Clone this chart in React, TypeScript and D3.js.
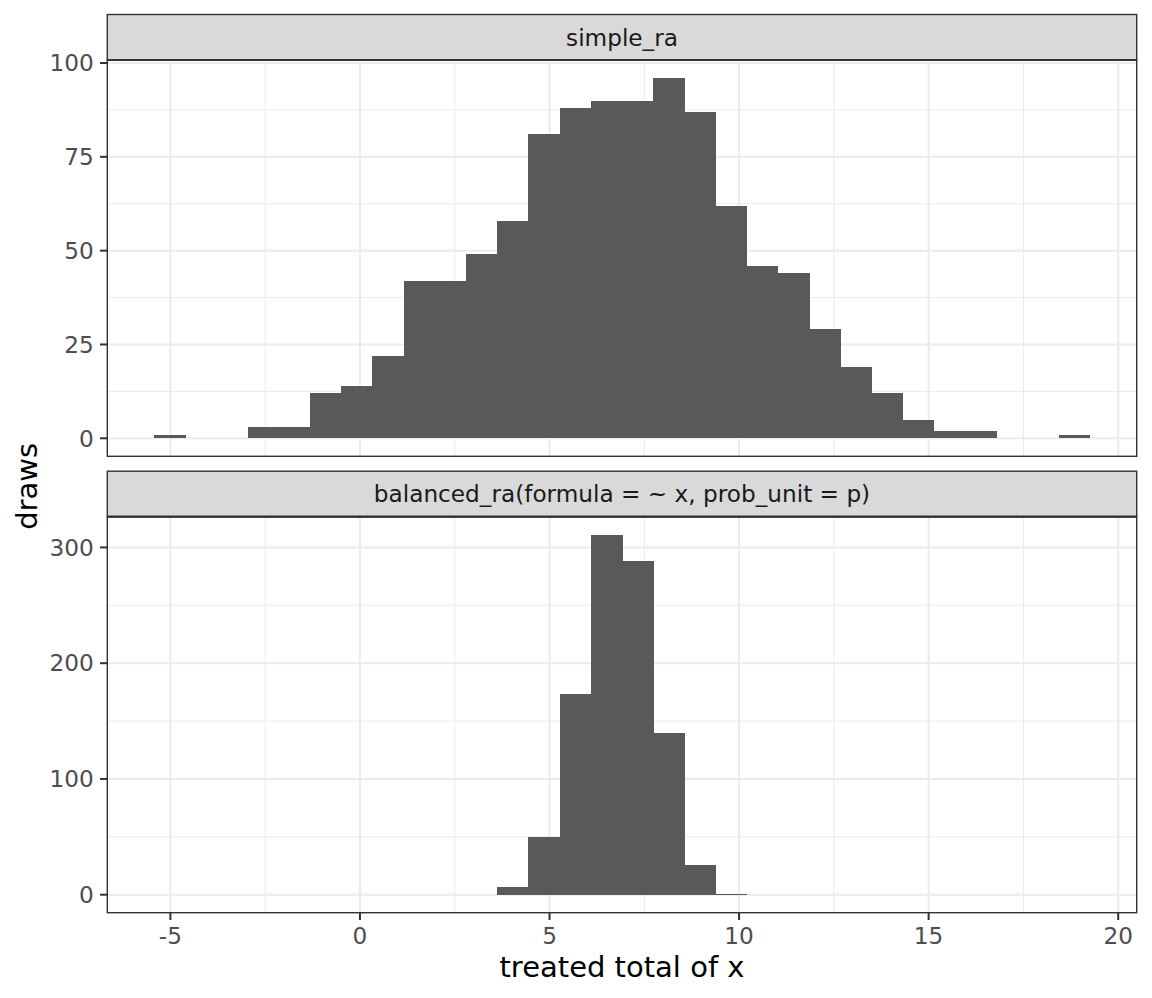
import * as d3 from 'd3';

// histogram bins (shared across facets)
const binStart = -5.43;
const binWidth = 0.8228;

// counts per bin, 30 bins each
const simpleCounts = [
  1, 0, 0, 3, 3, 12, 14, 22, 42, 42, 49, 58, 81, 88, 90, 90, 96, 87, 62, 46, 44,
  29, 19, 12, 5, 2, 2, 0, 0, 1,
];
const balancedCounts = [
  0, 0, 0, 0, 0, 0, 0, 0, 0, 0, 0, 7, 50, 173, 311, 288, 140, 26, 1, 0, 0, 0, 0,
  0, 0, 0, 0, 0, 0, 0,
];

const facetLabels = ['simple_ra', 'balanced_ra(formula = ~ x, prob_unit = p)'];
const xBreaks = [-5, 0, 5, 10, 15, 20];
const xMinorBreaks = [-2.5, 2.5, 7.5, 12.5, 17.5];
const topBreaks = [0, 25, 50, 75, 100];
const topMinor = [12.5, 37.5, 62.5, 87.5];
const bottomBreaks = [0, 100, 200, 300];
const bottomMinor = [50, 150, 250];

const W = 1152;
const H = 998;
const FONT = '"DejaVu Sans", Verdana, sans-serif';
const SMALL = 23.2;
const BIG = 29;
const left = 107.3;
const right = 1136.7;
const stripH = 45.5;

interface Facet {
  label: string;
  counts: number[];
  breaks: number[];
  minor: number[];
  top: number; // panel top (below strip)
  bottom: number;
}

const facets: Facet[] = [
  { label: facetLabels[0], counts: simpleCounts, breaks: topBreaks, minor: topMinor, top: 60, bottom: 456.3 },
  { label: facetLabels[1], counts: balancedCounts, breaks: bottomBreaks, minor: bottomMinor, top: 516.7, bottom: 912.7 },
];

const nBins = simpleCounts.length;
const xLo = binStart;
const xHi = binStart + nBins * binWidth;
const xPad = (xHi - xLo) * 0.05;
const x = d3.scaleLinear().domain([xLo - xPad, xHi + xPad]).range([left, right]);

const Panel = ({ f, last }: { f: Facet; last: boolean }) => {
  const yMax = d3.max(f.counts) || 1;
  const y = d3
    .scaleLinear()
    .domain([-yMax * 0.05, yMax * 1.05])
    .range([f.bottom, f.top]);
  const stripTop = f.top - stripH;

  return (
    <g>
      {/* panel background + grid */}
      <rect x={left} y={f.top} width={right - left} height={f.bottom - f.top} fill="#fff" />
      {f.minor.map((v) => (
        <line key={'hm' + v} x1={left} x2={right} y1={y(v)} y2={y(v)} stroke="#EBEBEB" strokeWidth={1} />
      ))}
      {xMinorBreaks.map((v) => (
        <line key={'vm' + v} x1={x(v)} x2={x(v)} y1={f.top} y2={f.bottom} stroke="#EBEBEB" strokeWidth={1} />
      ))}
      {f.breaks.map((v) => (
        <line key={'hM' + v} x1={left} x2={right} y1={y(v)} y2={y(v)} stroke="#EBEBEB" strokeWidth={2} />
      ))}
      {xBreaks.map((v) => (
        <line key={'vM' + v} x1={x(v)} x2={x(v)} y1={f.top} y2={f.bottom} stroke="#EBEBEB" strokeWidth={2} />
      ))}

      {/* bars */}
      <g shapeRendering="crispEdges">
        {f.counts.map((c, i) => {
          if (c === 0) return null;
          const x0 = x(binStart + i * binWidth);
          const x1 = x(binStart + (i + 1) * binWidth);
          return (
            <rect key={i} x={x0} y={y(c)} width={x1 - x0 + 0.5} height={y(0) - y(c)} fill="#595959" />
          );
        })}
      </g>

      <rect
        x={left}
        y={f.top}
        width={right - left}
        height={f.bottom - f.top}
        fill="none"
        stroke="#333333"
        strokeWidth={1.4}
      />

      {/* strip */}
      <rect
        x={left}
        y={stripTop}
        width={right - left}
        height={stripH}
        fill="#D9D9D9"
        stroke="#333333"
        strokeWidth={1.4}
      />
      <line x1={left} x2={right} y1={f.top} y2={f.top} stroke="#333333" strokeWidth={2.2} />
      <text
        x={(left + right) / 2}
        y={stripTop + stripH / 2 + 8.3}
        textAnchor="middle"
        fontSize={SMALL}
        fill="#1A1A1A"
        fontFamily={FONT}
      >
        {f.label}
      </text>

      {/* y axis */}
      {f.breaks.map((v) => (
        <g key={'yt' + v}>
          <line x1={left - 7.3} x2={left} y1={y(v)} y2={y(v)} stroke="#333333" strokeWidth={2} />
          <text
            x={left - 13.5}
            y={y(v) + 8.3}
            textAnchor="end"
            fontSize={SMALL}
            fill="#4D4D4D"
            fontFamily={FONT}
          >
            {v}
          </text>
        </g>
      ))}

      {/* x axis only under last panel */}
      {last &&
        xBreaks.map((v) => (
          <g key={'xt' + v}>
            <line x1={x(v)} x2={x(v)} y1={f.bottom} y2={f.bottom + 7.3} stroke="#333333" strokeWidth={2} />
            <text
              x={x(v)}
              y={f.bottom + 31}
              textAnchor="middle"
              fontSize={SMALL}
              fill="#4D4D4D"
              fontFamily={FONT}
            >
              {v}
            </text>
          </g>
        ))}
    </g>
  );
};

const App = () => {
  return (
    <svg
      width={W}
      height={H}
      style={{ display: 'block', position: 'absolute', left: 0, top: 0 }}
    >
      <rect width={W} height={H} fill="#fff" />
      {facets.map((f, i) => (
        <Panel key={f.label} f={f} last={i === facets.length - 1} />
      ))}
      <text
        x={(left + right) / 2}
        y={977}
        textAnchor="middle"
        fontSize={BIG}
        fill="#000"
        fontFamily={FONT}
      >
        treated total of x
      </text>
      <text
        transform={`translate(36.5, ${(facets[0].top + facets[1].bottom) / 2}) rotate(-90)`}
        textAnchor="middle"
        fontSize={BIG}
        fill="#000"
        fontFamily={FONT}
      >
        draws
      </text>
    </svg>
  );
};

export default App;
